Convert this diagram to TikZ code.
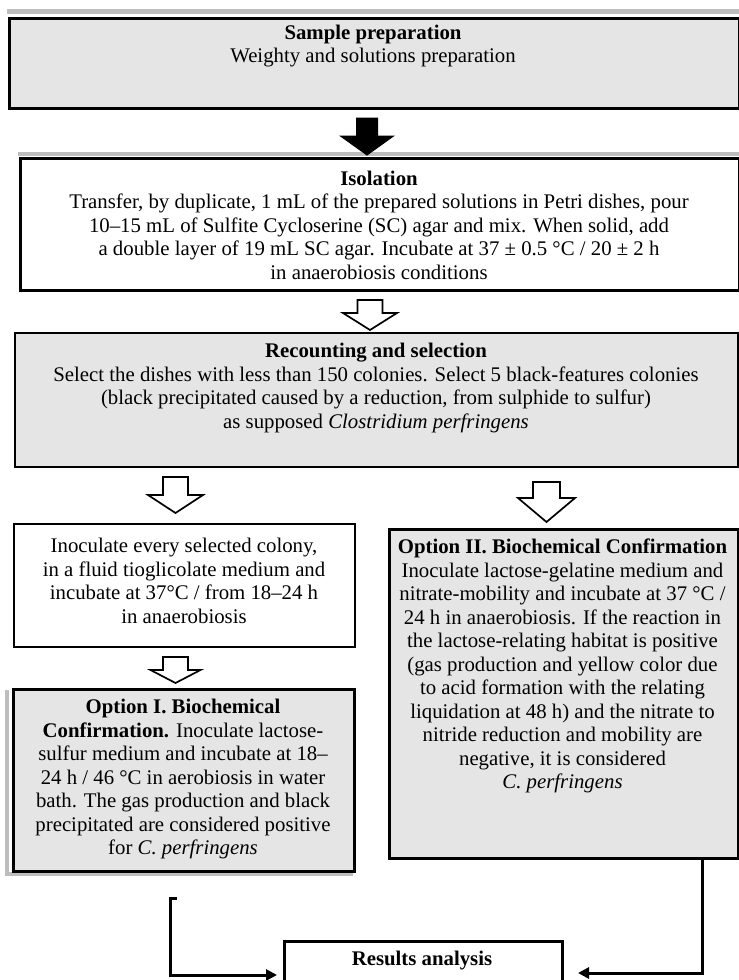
\documentclass[tikz,border=0pt]{standalone}
\usepackage{fontspec}
\setmainfont{Liberation Serif}
\usetikzlibrary{arrows.meta}
\definecolor{boxgrey}{HTML}{E5E5E5}
\definecolor{shadeband}{HTML}{BDBDBD}
\newcommand\harrowshape[7]{% style, cx, top, stem half width, head half width, head base, tip
  \draw[#1] (#2-#4,#3) -- (#2+#4,#3) -- (#2+#4,#6) -- (#2+#5,#6) -- (#2,#7)
    -- (#2-#5,#6) -- (#2-#4,#6) -- cycle;}
\begin{document}
\begin{tikzpicture}[x=1pt,y=-1pt,
  box/.style={draw=black, inner sep=0pt, anchor=north west},
  txt/.style={align=center, inner sep=0pt, font=\fontsize{20.8}{23.5}\selectfont},
  hollow/.style={draw=black, line width=1.7pt, fill=white, line join=miter},
  solidarrow/.style={draw=black, line width=1pt, fill=black, line join=miter},
  conn/.style={line width=3pt, line join=miter, -{Triangle[length=11pt,width=11pt]}}]
\clip (0,0) rectangle (739,980);
\fill[white] (0,0) rectangle (739,980);

% shading bands
\fill[shadeband] (7,9) rectangle (739,14);
\fill[shadeband] (18,152) rectangle (739,156);
\fill[shadeband] (737,333) rectangle (739,466);
\fill[shadeband] (5,690) rectangle (9,876);
\fill[shadeband] (5,872) rectangle (353,876);

% boxes
\node[box, fill=boxgrey, line width=3pt, minimum width=730pt, minimum height=90pt] (b1) at (8,17) {};
\node[box, fill=white, line width=2.7pt, minimum width=719pt, minimum height=132pt] (b2) at (19,157) {};
\node[box, fill=boxgrey, line width=2pt, minimum width=723pt, minimum height=134pt] (b3) at (14,332) {};
\node[box, fill=white, line width=2.2pt, minimum width=341pt, minimum height=123pt] (b4) at (13,523) {};
\node[box, fill=boxgrey, line width=2.7pt, minimum width=349pt, minimum height=329pt] (b5) at (388,528) {};
\node[box, fill=boxgrey, line width=3pt, minimum width=341pt, minimum height=182pt] (b6) at (12,688) {};
\node[box, fill=white, line width=2.7pt, minimum width=278pt, minimum height=60pt] (b7) at (283,940) {};

% texts
\node[txt] (t1) at (373,46) {\textbf{Sample preparation}\\Weighty and solutions preparation};
\node[txt] (t2) at (379,225) {\textbf{Isolation}\\
Transfer, by duplicate, 1 mL of the prepared solutions in Petri dishes, pour\\
10–15 mL of Sulfite Cycloserine (SC) agar and mix. When solid, add\\
a double layer of 19 mL SC agar. Incubate at 37 ± 0.5 °C / 20 ± 2 h\\
in anaerobiosis conditions};
\node[txt] (t3) at (376,388) {\textbf{Recounting and selection}\\
Select the dishes with less than 150 colonies. Select 5 black-features colonies\\
(black precipitated caused by a reduction, from sulphide to sulfur)\\
as supposed \textit{Clostridium perfringens}};
\node[txt] (t4) at (184,581) {Inoculate every selected colony,\\
in a fluid tioglicolate medium and\\
incubate at 37°C / from 18–24 h\\
in anaerobiosis};
\node[txt] (t5) at (562.5,666) {\textbf{Option II. Biochemical Confirmation}\\
Inoculate lactose-gelatine medium and\\
nitrate-mobility and incubate at 37 °C /\\
24 h in anaerobiosis. If the reaction in\\
the lactose-relating habitat is positive\\
(gas production and yellow color due\\
to acid formation with the relating\\
liquidation at 48 h) and the nitrate to\\
nitride reduction and mobility are\\
negative, it is considered\\
\textit{C. perfringens}};
\node[txt] (t6) at (183,779) {\textbf{Option I. Biochemical}\\
\textbf{Confirmation.} Inoculate lactose-\\
sulfur medium and incubate at 18–\\
24 h / 46 °C in aerobiosis in water\\
bath. The gas production and black\\
precipitated are considered positive\\
for \textit{C. perfringens}};
\node[txt] (t7) at (422,961) {\textbf{Results analysis}};

% arrows between boxes
\harrowshape{solidarrow}{367}{118}{10.5}{26.5}{136}{155}
\harrowshape{hollow}{370}{300}{12.5}{27}{313}{330}
\harrowshape{hollow}{175.5}{477}{12.5}{27.5}{495}{513}
\harrowshape{hollow}{546.5}{482}{13.5}{28.5}{498}{522}
\harrowshape{hollow}{175.5}{657}{12.5}{25}{670}{683}

% connectors to results
\coordinate (lstart) at (177,898);
\coordinate (lend) at (277,975);
\coordinate (rstart) at (702,857);
\coordinate (rend) at (578,973);
\draw[conn] (lstart) -- ++(-7,0) |- (lend);
\draw[conn] (rstart) |- (rend);
\end{tikzpicture}
\end{document}
